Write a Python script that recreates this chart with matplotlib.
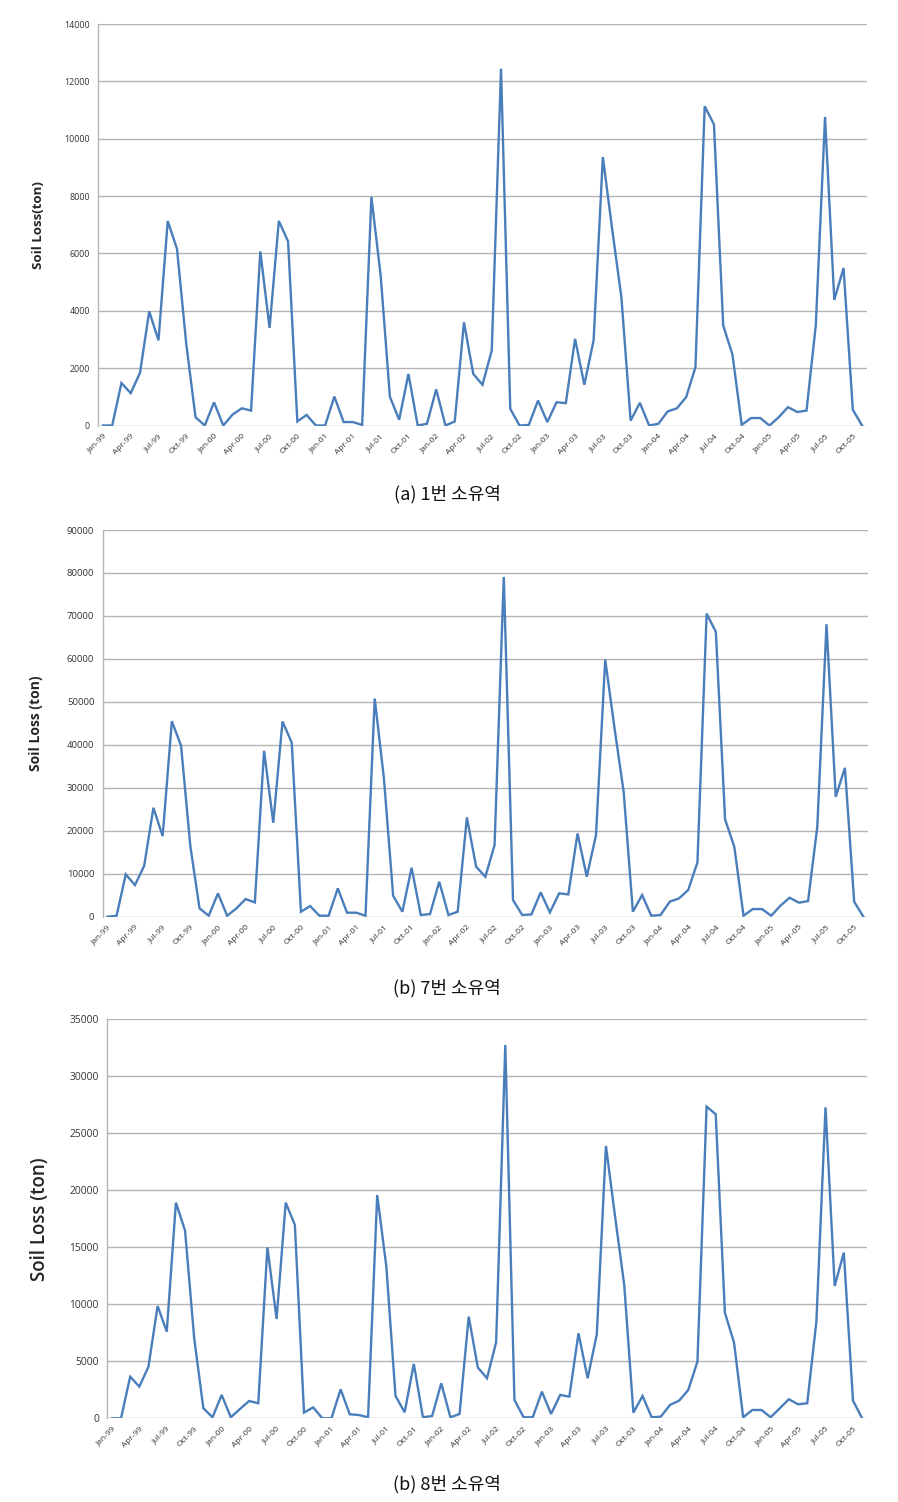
import matplotlib
matplotlib.use("Agg")
import matplotlib.pyplot as plt

months = ["Jan", "Feb", "Mar", "Apr", "May", "Jun", "Jul", "Aug", "Sep", "Oct", "Nov", "Dec"]
categories = [f"{m}-{y:02d}" for y in [99, 0, 1, 2, 3, 4, 5] for m in months][:83]

soil_loss_1 = [0, 0, 1480, 1130, 1830, 3980, 2970, 7130, 6160, 2850, 290, 0,
               810, 0, 380, 600, 520, 6070, 3400, 7130, 6420, 140, 370, 0,
               0, 1010, 120, 120, 20, 7970, 5230, 1000, 200, 1800, 0, 60,
               1260, 0, 140, 3600, 1800, 1420, 2620, 12440, 580, 0, 20, 870,
               120, 810, 780, 3020, 1420, 2970, 9360, 6860, 4480, 170, 790, 0,
               60, 490, 600, 990, 2030, 11130, 10500, 3490, 2470, 20, 260, 260,
               0, 290, 640, 470, 520, 3490, 10760, 4380, 5490, 550, 0]

soil_loss_7 = [0, 200, 9840, 7360, 11860, 25350, 18760, 45500, 39770, 16500, 1940, 230,
               5430, 230, 1940, 4110, 3330, 38600, 21860, 45430, 40540, 1160, 2480, 230,
               230, 6590, 930, 930, 230, 50780, 32170, 4880, 1160, 11400, 390, 620,
               8140, 390, 1160, 23100, 11630, 9300, 16670, 79070, 3880, 390, 540, 5660,
               1010, 5430, 5190, 19380, 9300, 18990, 59840, 44000, 29070, 1160, 5040, 230,
               390, 3490, 4260, 6200, 12640, 70540, 66280, 22640, 16280, 230, 1780, 1780,
               230, 2560, 4420, 3260, 3640, 20930, 68060, 27910, 34650, 3490, 0]

soil_loss_8 = [0, 0, 3650, 2780, 4530, 9850, 7600, 18920, 16460, 7000, 880, 90,
               2050, 90, 820, 1520, 1320, 15000, 8710, 18920, 16960, 500, 960, 0,
               0, 2540, 350, 290, 90, 19590, 13300, 1960, 530, 4770, 90, 200,
               3070, 90, 380, 8920, 4450, 3510, 6670, 32750, 1610, 90, 90, 2340,
               380, 2050, 1900, 7460, 3510, 7370, 23890, 17690, 11700, 500, 1960, 90,
               150, 1170, 1550, 2490, 4970, 27340, 26670, 9270, 6640, 90, 730, 730,
               90, 880, 1670, 1230, 1320, 8480, 27280, 11610, 14530, 1550, 0]

panels = [
    dict(data=soil_loss_1, ymax=14000, ystep=2000, ylabel="Soil Loss(ton)",
         box=(98.3, 24, 866.7, 425.5), lab_x=38, lab_fs=9.5, lab_w="bold",
         tick_fs=6.4, xtick_fs=6.0, caption="(a) 1번 소유역", cap_y=494),
    dict(data=soil_loss_7, ymax=90000, ystep=10000, ylabel="Soil Loss (ton)",
         box=(102.7, 530, 868, 916.7), lab_x=36, lab_fs=10, lab_w="bold",
         tick_fs=6.8, xtick_fs=6.0, caption="(b) 7번 소유역", cap_y=988),
    dict(data=soil_loss_8, ymax=35000, ystep=5000, ylabel="Soil Loss (ton)",
         box=(107.3, 1019.3, 866.7, 1418.3), lab_x=40, lab_fs=13.5, lab_w="semibold",
         tick_fs=7.4, xtick_fs=6.0, caption="(b) 8번 소유역", cap_y=1484),
]

W, H = 898, 1502
fig = plt.figure(figsize=(W / 100, H / 100), dpi=100)
fig.patch.set_facecolor("white")

grid_c = "#b4b4b4"
line_c = "#4a7ebb"
text_c = "#333333"

for p in panels:
    l, t, r, b = p["box"]
    ax = fig.add_axes([l / W, 1 - b / H, (r - l) / W, (b - t) / H])
    x = list(range(len(p["data"])))
    ax.plot(x, p["data"], color=line_c, lw=1.7, solid_joinstyle="miter")
    ax.set_xlim(-0.5, len(p["data"]) - 0.5)
    ax.set_ylim(0, p["ymax"])
    ax.set_yticks(list(range(0, p["ymax"] + 1, p["ystep"])))
    ax.yaxis.grid(True, color=grid_c, lw=1.0)
    ax.set_axisbelow(True)
    for s in ["top", "right", "bottom"]:
        ax.spines[s].set_visible(False)
    ax.spines["left"].set_color(grid_c)
    ax.spines["left"].set_linewidth(1.0)
    tick_pos = list(range(0, len(p["data"]), 3))
    ax.set_xticks(tick_pos)
    ax.set_xticklabels([categories[i] for i in tick_pos], rotation=45, ha="right",
                       va="top", rotation_mode="anchor", fontsize=p["xtick_fs"],
                       color=text_c, family="Open Sans")
    ax.tick_params(axis="both", length=0)
    ax.tick_params(axis="x", pad=5)
    ax.tick_params(axis="y", pad=6)
    for lab in ax.get_yticklabels():
        lab.set_fontsize(p["tick_fs"])
        lab.set_color(text_c)
        lab.set_family("Open Sans")
    fig.text(p["lab_x"] / W, 1 - (t + b) / 2 / H, p["ylabel"], rotation=90,
             ha="center", va="center", fontsize=p["lab_fs"], fontweight=p["lab_w"],
             color="#262626", family="Open Sans")
    fig.text(447 / W, 1 - p["cap_y"] / H, p["caption"], ha="center", va="center",
             fontsize=13, color="#111111", family=["Noto Sans CJK KR", "DejaVu Sans"])

fig.savefig("out.png", dpi=100, facecolor="white")
